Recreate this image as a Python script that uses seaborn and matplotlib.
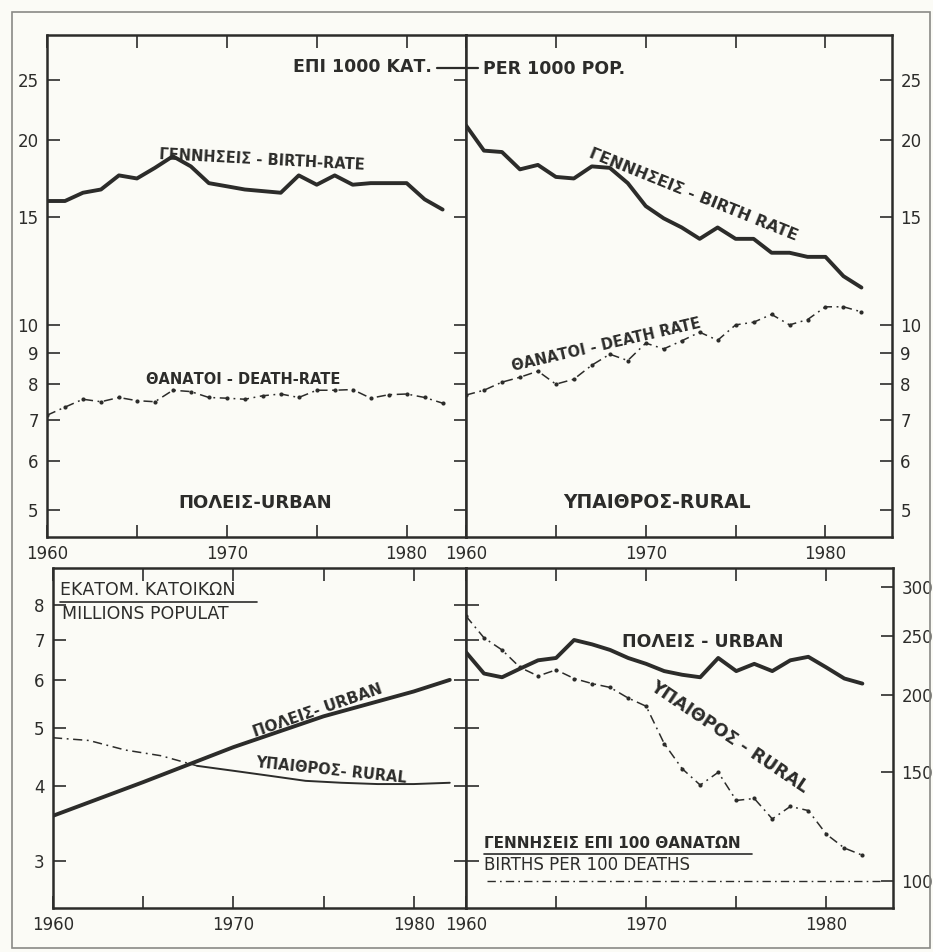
"""
Greece 1960-1982: birth / death rates, population and births per 100 deaths,
urban vs rural.  Four panels, log scales.
"""

import matplotlib
matplotlib.use("Agg")
import matplotlib.pyplot as plt
import seaborn as sns
from matplotlib.lines import Line2D
from matplotlib.patches import Rectangle
from matplotlib.ticker import FixedFormatter, FixedLocator, NullLocator


# ── data ──
YEARS = list(range(1960, 1983))

URBAN_BIRTH = [15.9, 15.9, 16.4, 16.6, 17.5, 17.3, 18.0, 18.8, 18.1, 17.0, 16.8, 16.6,
               16.5, 16.4, 17.5, 16.9, 17.5, 16.9, 17.0, 17.0, 17.0, 16.0, 15.4]
URBAN_DEATH = [7.13, 7.35, 7.57, 7.50, 7.62, 7.53, 7.50, 7.83, 7.79, 7.62, 7.60, 7.57,
               7.67, 7.72, 7.62, 7.83, 7.83, 7.85, 7.60, 7.70, 7.72, 7.62, 7.46]
RURAL_BIRTH = [21.1, 19.2, 19.1, 17.9, 18.2, 17.4, 17.3, 18.1, 18.0, 17.0, 15.6, 14.9,
               14.4, 13.8, 14.4, 13.8, 13.8, 13.1, 13.1, 12.9, 12.9, 12.0, 11.5]
RURAL_DEATH = [7.69, 7.83, 8.07, 8.22, 8.41, 8.01, 8.16, 8.60, 8.96, 8.75, 9.34, 9.14,
               9.42, 9.73, 9.44, 10.0, 10.1, 10.4, 10.0, 10.2, 10.7, 10.7, 10.5]

URBAN_POP_YEARS = [1960, 1965, 1970, 1975, 1980, 1982]
URBAN_POP = [3.57, 4.06, 4.64, 5.22, 5.74, 6.0]
RURAL_POP_YEARS = [1960, 1962, 1964, 1966, 1968, 1970, 1972, 1974, 1976, 1978, 1980, 1982]
RURAL_POP = [4.81, 4.76, 4.59, 4.49, 4.32, 4.24, 4.16, 4.08, 4.05, 4.03, 4.03, 4.05]

URBAN_RATIO = [235, 217, 214, 221, 228, 230, 246, 242, 237, 230, 225, 219,
               216, 214, 230, 219, 225, 219, 228, 231, 222, 213, 209]
RURAL_RATIO = [269, 248, 237, 222, 215, 220, 213, 209, 206, 198, 192, 167,
               152, 143, 150, 135, 136, 126, 132, 130, 119, 113, 110]
EQUAL_LEVEL = 100

RATE_TICKS = [5, 6, 7, 8, 9, 10, 15, 20, 25]
POP_TICKS = [3, 4, 5, 6, 7, 8]
RATIO_TICKS = [100, 150, 200, 250, 300]
YEAR_MAJOR = [1960, 1970, 1980]
YEAR_MINOR = [1965, 1975]

INK = "#2c2c2a"
PAPER = "#fbfbf6"
W, H = 933, 952


def box(x0, y0, x1, y1):
    # pixel box (top-left origin) -> figure fraction rect
    return [x0 / W, 1 - y1 / H, (x1 - x0) / W, (y1 - y0) / H]


def fig_xy(x, y):
    return x / W, 1 - y / H


def style_axes(ax, xlim, ylim, yticks, label_side):
    ax.set_facecolor(PAPER)
    ax.set_yscale("log")
    ax.set_xlim(*xlim)
    ax.set_ylim(*ylim)
    ax.set_xlabel("")
    ax.set_ylabel("")
    for s in ax.spines.values():
        s.set_visible(True)
        s.set_linewidth(1.8)
        s.set_color(INK)
    ax.xaxis.set_major_locator(FixedLocator(YEAR_MAJOR))
    ax.xaxis.set_major_formatter(FixedFormatter([str(y) for y in YEAR_MAJOR]))
    ax.xaxis.set_minor_locator(FixedLocator(YEAR_MINOR))
    ax.yaxis.set_major_locator(FixedLocator(yticks))
    ax.yaxis.set_major_formatter(FixedFormatter([str(v) for v in yticks]))
    ax.yaxis.set_minor_locator(NullLocator())
    ax.tick_params(axis="x", which="both", direction="in", top=True, bottom=True,
                   length=9, width=1.2, color=INK, labelsize=12, labelcolor=INK, pad=6)
    left = label_side == "left"
    ax.tick_params(axis="y", which="major", direction="in", left=left, right=True,
                   labelleft=left, labelright=not left, length=9, width=1.2,
                   color=INK, labelsize=12, labelcolor=INK, pad=6)


def label(text, x, y, size=10.5, rot=0, ha="center", weight="bold"):
    fx, fy = fig_xy(x, y)
    fig.text(fx, fy, text, fontsize=size, rotation=rot, ha=ha, va="center",
             color=INK, fontweight=weight, rotation_mode="anchor")


def rule(x0, x1, y, lw=1.2):
    a = fig_xy(x0, y)
    b = fig_xy(x1, y)
    fig.add_artist(Line2D([a[0], b[0]], [a[1], b[1]], color=INK, lw=lw,
                          transform=fig.transFigure))


sns.set_theme(style="ticks")
plt.rcParams["font.family"] = ["DejaVu Sans"]

fig = plt.figure(figsize=(W / 100, H / 100), dpi=100, facecolor=PAPER)

ax_tl = fig.add_axes(box(47, 35, 466, 537))
ax_tr = fig.add_axes(box(466, 35, 892, 537))
ax_bl = fig.add_axes(box(53, 568, 466, 908))
ax_br = fig.add_axes(box(466, 568, 893, 908))

dash_dot = (0, (6, 3, 1.2, 3))

# ── top: birth / death rates per 1000 ──
sns.lineplot(x=YEARS, y=URBAN_BIRTH, ax=ax_tl, color=INK, lw=2.8)
sns.lineplot(x=YEARS, y=URBAN_DEATH, ax=ax_tl, color=INK, lw=1.1, ls=dash_dot,
             marker="o", markersize=3, markeredgewidth=0)
sns.lineplot(x=YEARS, y=RURAL_BIRTH, ax=ax_tr, color=INK, lw=2.8)
sns.lineplot(x=YEARS, y=RURAL_DEATH, ax=ax_tr, color=INK, lw=1.1, ls=dash_dot,
             marker="o", markersize=3, markeredgewidth=0)

style_axes(ax_tl, (1960, 1983.3), (4.52, 29.6), RATE_TICKS, "left")
style_axes(ax_tr, (1960, 1983.7), (4.52, 29.6), RATE_TICKS, "right")

# ── bottom left: population, millions ──
sns.lineplot(x=URBAN_POP_YEARS, y=URBAN_POP, ax=ax_bl, color=INK, lw=2.8)
sns.lineplot(x=RURAL_POP_YEARS[:5], y=RURAL_POP[:5], ax=ax_bl, color=INK, lw=1.1,
             ls=dash_dot)
sns.lineplot(x=RURAL_POP_YEARS[4:], y=RURAL_POP[4:], ax=ax_bl, color=INK, lw=1.4)
style_axes(ax_bl, (1960, 1982.9), (2.51, 9.2), POP_TICKS, "left")

# ── bottom right: births per 100 deaths ──
sns.lineplot(x=YEARS, y=URBAN_RATIO, ax=ax_br, color=INK, lw=2.8)
sns.lineplot(x=YEARS, y=RURAL_RATIO, ax=ax_br, color=INK, lw=1.1, ls=dash_dot,
             marker="o", markersize=3, markeredgewidth=0)
ax_br.axhline(EQUAL_LEVEL, xmin=0.05, xmax=0.97, color=INK, lw=1.0, ls=dash_dot)
style_axes(ax_br, (1960, 1983.7), (90.3, 322), RATIO_TICKS, "right")

# left-spine ticks of the ratio panel follow the population scale
ax_tw = ax_br.twinx()
ax_tw.set_yscale("log")
ax_tw.set_ylim(2.51, 9.2)
ax_tw.yaxis.set_major_locator(FixedLocator(POP_TICKS))
ax_tw.yaxis.set_minor_locator(NullLocator())
ax_tw.tick_params(axis="y", which="both", direction="in", left=True, right=False,
                  labelleft=False, labelright=False, length=9, width=1.2, color=INK)
for s in ax_tw.spines.values():
    s.set_visible(False)
ax_tw.patch.set_visible(False)
ax_br.tick_params(axis="y", which="major", right=True, labelright=True, left=False,
                  labelleft=False)

# ── hand-lettered captions ──
label("ΕΠΙ 1000 ΚΑΤ.", 432, 67, size=12.5, ha="right")
rule(437, 478, 68, lw=1.6)
label("PER 1000 POP.", 483, 69, size=12.5, ha="left")

label("ΓΕΝΝΗΣΕΙΣ - BIRTH-RATE", 262, 160, size=10.5, rot=-3)
label("ΘΑΝΑΤΟΙ - DEATH-RATE", 243, 380, size=10.5)
label("ΠΟΛΕΙΣ-URBAN", 255, 503, size=13)

label("ΓΕΝΝΗΣΕΙΣ - BIRTH RATE", 693, 195, size=11.5, rot=-22)
label("ΘΑΝΑΤΟΙ - DEATH RATE", 606, 345, size=10.5, rot=13)
label("ΥΠΑΙΘΡΟΣ-RURAL", 657, 503, size=13.5)

label("ΕΚΑΤΟΜ. ΚΑΤΟΙΚΩΝ", 60, 590, size=12.5, ha="left", weight="normal")
rule(60, 257, 602)
label("MILLIONS POPULAT", 62, 614, size=12.5, ha="left", weight="normal")
label("ΠΟΛΕΙΣ- URBAN", 318, 711, size=11, rot=19)
label("ΥΠΑΙΘΡΟΣ- RURAL", 331, 770, size=10.5, rot=-6)

label("ΠΟΛΕΙΣ - URBAN", 703, 642, size=12.5)
label("ΥΠΑΙΘΡΟΣ - RURAL", 729, 737, size=12.5, rot=-34)
label("ΓΕΝΝΗΣΕΙΣ ΕΠΙ 100 ΘΑΝΑΤΩΝ", 484, 843, size=11, ha="left")
rule(484, 752, 854)
label("BIRTHS PER 100 DEATHS", 484, 865, size=12, ha="left", weight="normal")

# outer sheet border
x0, y0 = fig_xy(12, 948)
fig.add_artist(Rectangle((x0, y0), (930 - 12) / W, (948 - 12) / H, fill=False,
                         edgecolor="#8a8a86", lw=1.2, transform=fig.transFigure))

fig.savefig("out.png", dpi=100, facecolor=PAPER)
